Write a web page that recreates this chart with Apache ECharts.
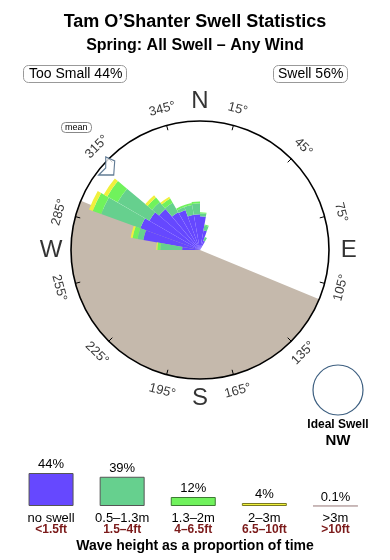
<!DOCTYPE html>
<html>
<head>
<meta charset="utf-8">
<script src="https://cdn.jsdelivr.net/npm/echarts@6/dist/echarts.min.js"></script>
<style>html,body{margin:0;padding:0;background:#fff;}#c{width:390px;height:560px;}</style>
</head>
<body>
<div id="c"></div>
<script>
// ---- data ----
const dirBins   = [275, 285, 295, 305, 315, 325, 335, 345, 355, 5, 15, 25]; // bin centre bearings (10° bins)
const noSwell   = [1.8, 5.8, 6.4, 5.9, 5.4, 4.4, 4.3, 3.6, 3.6, 3.4, 2.0, 1.0];
const swellSm   = [2.2, 0.6, 4.2, 3.7, 0.9, 1.1, 0.3, 1.0, 1.1, 0.3, 0.5, 0.4];
const swellMd   = [0.3, 0.5, 0.9, 1.2, 0.6, 0.5, 0.2, 0.2, 0.2, 0.1, 0.1, 0.0];
const swellLg   = [0.1, 0.2, 0.4, 0.4, 0.3, 0.2, 0.0, 0.0, 0.0, 0.0, 0.0, 0.0];
const meanDir   = 312;
const landFrom  = 112.5, landTo = 292.5;
const tickDegs  = [15, 45, 75, 105, 135, 165, 195, 225, 255, 285, 315, 345];
const compass   = [['N', 0], ['E', 90], ['S', 180], ['W', 270]];
const legendPct = [44, 39, 12, 4, 0.1];
const legendM   = ['no swell', '0.5–1.3m', '1.3–2m', '2–3m', '>3m'];
const legendFt  = ['<1.5ft', '1.5–4ft', '4–6.5ft', '6.5–10ft', '>10ft'];
const colors    = ['#6648ff', '#66d08e', '#70f25c', '#f0f03c', '#b8a2a2'];
const borders   = ['#555555', '#555555', '#3d7a33', '#7a7a20', '#b8a2a2'];

// ---- build ----
const cats36 = Array.from({length: 36}, (_, i) => (i * 10) + '');
function full(arr) {
  const out = new Array(36).fill(0);
  dirBins.forEach((b, i) => { out[Math.round((b - 5) / 10)] = arr[i]; });
  return out;
}
function rot(b) { return (b > 90 && b < 270) ? 180 - b : (b >= 270 ? 360 - b : -b); }

const C = [200, 250], R = 129, RMAX = 13;
const font = 'Liberation Sans';
const chart = echarts.init(document.getElementById('c'));
const hidden = {axisLine: {show: false}, axisTick: {show: false}, axisLabel: {show: false}, splitLine: {show: false}};

const roseSeries = [noSwell, swellSm, swellMd, swellLg].map((arr, i) => ({
  type: 'bar', coordinateSystem: 'polar', polarIndex: 0, stack: 'rose',
  data: full(arr), barWidth: '100%', barCategoryGap: '0%', barGap: '0%', silent: true, z: 3,
  itemStyle: {color: colors[i]}
}));

const option = {
  animation: false,
  textStyle: {fontFamily: font},
  title: [
    {text: 'Tam O’Shanter Swell Statistics', left: 'center', top: 8,
     textStyle: {fontSize: 18, fontWeight: 'bold', color: '#000', fontFamily: font}},
    {text: 'Spring: All Swell – Any Wind', left: 'center', top: 33,
     textStyle: {fontSize: 16, fontWeight: 'bold', color: '#000', fontFamily: font}},
    {text: 'Too Small 44%', left: 23, top: 65, padding: [2, 4, 2, 6], borderColor: '#999', borderWidth: 1, borderRadius: 5,
     textStyle: {fontSize: 14, fontWeight: 'normal', color: '#000', fontFamily: font}},
    {text: 'Swell 56%', left: 273, top: 65, padding: [2, 4, 2, 5], borderColor: '#999', borderWidth: 1, borderRadius: 5,
     textStyle: {fontSize: 14, fontWeight: 'normal', color: '#000', fontFamily: font}},
    {text: 'mean', left: 61, top: 122, padding: [1, 4, 1, 4], borderColor: '#888', borderWidth: 1, borderRadius: 4,
     textStyle: {fontSize: 9, fontWeight: 'normal', color: '#000', fontFamily: font}}
  ],
  polar: [
    {center: C, radius: R},
    {center: C, radius: R},
    {center: C, radius: R}
  ],
  angleAxis: [
    Object.assign({polarIndex: 0, type: 'category', data: cats36, startAngle: 90, clockwise: true, boundaryGap: true}, hidden),
    {polarIndex: 1, type: 'category', data: tickDegs.map(String), startAngle: 90 - tickDegs[0], clockwise: true, boundaryGap: true,
     z: 10, axisLine: {show: true, lineStyle: {color: '#000', width: 1.6}},
     axisTick: {show: true, inside: true, length: 5, interval: 0, lineStyle: {color: '#000', width: 1}},
     axisLabel: {show: false}, splitLine: {show: false}},
    Object.assign({polarIndex: 2, type: 'value', min: 0, max: 360, startAngle: 90, clockwise: true}, hidden)
  ],
  radiusAxis: [
    Object.assign({polarIndex: 0, type: 'value', min: 0, max: RMAX}, hidden),
    Object.assign({polarIndex: 1, type: 'value', min: 0, max: RMAX}, hidden),
    Object.assign({polarIndex: 2, type: 'value', min: 0, max: RMAX}, hidden)
  ],
  grid: {left: 15.5, right: 19, top: 461, bottom: 54},
  xAxis: {type: 'category', data: legendM, axisLine: {show: false}, axisTick: {show: false}, splitLine: {show: false},
    axisLabel: {interval: 0, margin: 6,
      formatter: (v, i) => '{a|' + v + '}\n{b|' + legendFt[i] + '}',
      rich: {a: {fontSize: 13, color: '#000', lineHeight: 12, fontFamily: font},
             b: {fontSize: 12, fontWeight: 'bold', color: '#7b1a1a', lineHeight: 12, fontFamily: font}}}},
  yAxis: {type: 'value', min: 0, max: 60, show: false},
  graphic: [
    {type: 'circle', shape: {cx: 338, cy: 390, r: 25}, style: {fill: 'none', stroke: '#3d5f80', lineWidth: 1.2}},
    {type: 'text', x: 338, y: 425, style: {text: 'Ideal Swell', align: 'center', verticalAlign: 'middle',
      font: 'bold 12px "Liberation Sans"', fill: '#000'}},
    {type: 'text', x: 338, y: 441, style: {text: 'NW', align: 'center', verticalAlign: 'middle',
      font: 'bold 15px "Liberation Sans"', fill: '#000'}},
    {type: 'text', x: 195, y: 546, style: {text: 'Wave height as a proportion of time', align: 'center', verticalAlign: 'middle',
      font: 'bold 14px "Liberation Sans"', fill: '#000'}}
  ],
  series: [
    {type: 'pie', center: C, radius: [0, R], startAngle: 90 - landFrom, clockwise: true, silent: true, z: 1,
     label: {show: false}, labelLine: {show: false}, emphasis: {disabled: true},
     data: [{value: landTo - landFrom, itemStyle: {color: '#c5b9ac'}},
            {value: 360 - (landTo - landFrom), itemStyle: {color: 'rgba(0,0,0,0)'}}]},
    ...roseSeries,
    {type: 'scatter', coordinateSystem: 'polar', polarIndex: 2, symbolSize: 0, clip: false, silent: true, z: 5,
     label: {show: true, position: 'inside', formatter: '{b}', color: '#000', fontSize: 13, fontFamily: font},
     data: tickDegs.map(d => ({name: d + '°', value: [14.7, d], label: {rotate: rot(d)}}))},
    {type: 'scatter', coordinateSystem: 'polar', polarIndex: 2, symbolSize: 0, clip: false, silent: true, z: 5,
     label: {show: true, position: 'inside', formatter: '{b}', color: '#000', fontSize: 24, fontFamily: font},
     data: compass.map(c => ({name: c[0], value: [15.0, c[1]]}))},
    {type: 'scatter', coordinateSystem: 'polar', polarIndex: 2, clip: false, silent: true, z: 12,
     symbol: 'path://M0,18 L7,11 L7,0 L16,4 L15,18 Z', symbolSize: [16, 18],
     itemStyle: {color: '#ffffff', borderColor: '#3b5b7b', borderWidth: 1.2},
     data: [[12.65, meanDir]]},
    {type: 'bar', xAxisIndex: 0, yAxisIndex: 0, barWidth: 45, silent: true,
     label: {show: true, position: 'top', distance: 2, formatter: '{c}%', fontSize: 13, color: '#000', fontFamily: font},
     data: legendPct.map((v, i) => ({value: v, itemStyle: {color: colors[i], borderColor: borders[i], borderWidth: 1}}))}
  ]
};
chart.setOption(option);
</script>
</body>
</html>
